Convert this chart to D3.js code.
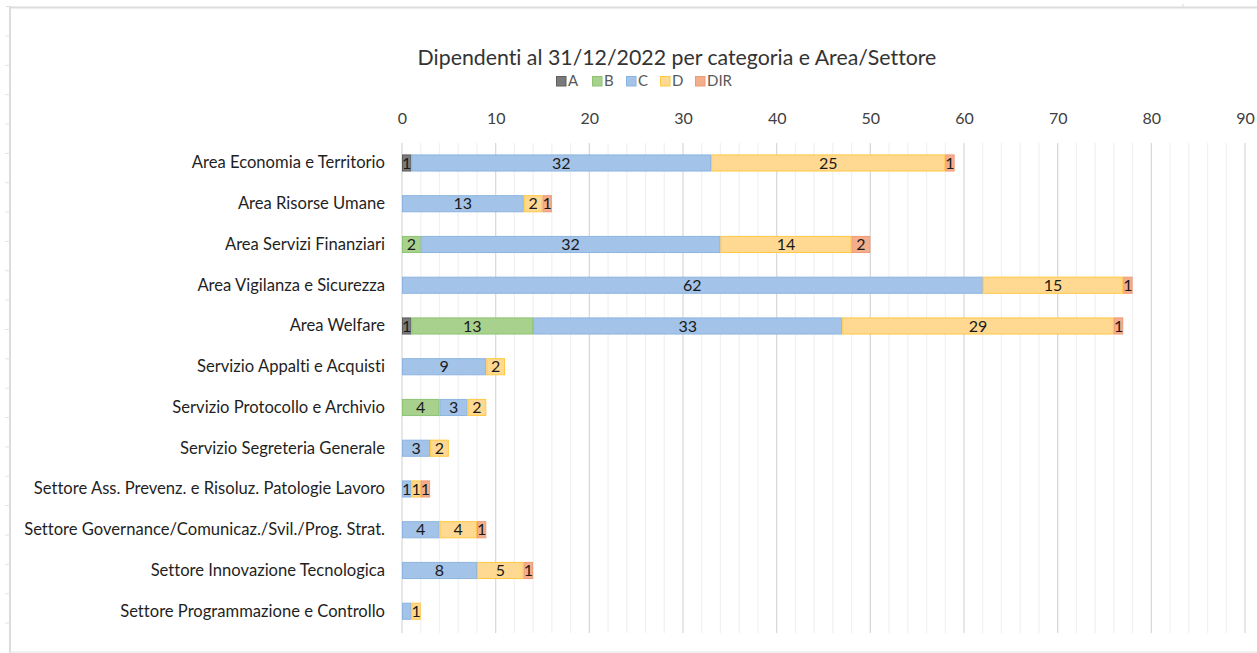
<!DOCTYPE html>
<html>
<head>
<meta charset="utf-8">
<script src="https://cdn.jsdelivr.net/npm/d3@7/dist/d3.min.js"></script>
<style>
  html, body { margin: 0; padding: 0; background: #fff; }
  svg { display: block; }
  text { font-family: Lato, "Open Sans", sans-serif; font-variant-ligatures: none; }
</style>
</head>
<body>
<svg id="chart" width="1257" height="653"></svg>
<script>
const categories = [
  "Area Economia e Territorio",
  "Area Risorse Umane",
  "Area Servizi Finanziari",
  "Area Vigilanza e Sicurezza",
  "Area Welfare",
  "Servizio Appalti e Acquisti",
  "Servizio Protocollo e Archivio",
  "Servizio Segreteria Generale",
  "Settore Ass. Prevenz. e Risoluz. Patologie Lavoro",
  "Settore Governance/Comunicaz./Svil./Prog. Strat.",
  "Settore Innovazione Tecnologica",
  "Settore Programmazione e Controllo"
];
const seriesNames = ["A", "B", "C", "D", "DIR"];
const valuesA   = [1, 0, 0, 0, 1, 0, 0, 0, 0, 0, 0, 0];
const valuesB   = [0, 0, 2, 0, 13, 0, 4, 0, 0, 0, 0, 0];
const valuesC   = [32, 13, 32, 62, 33, 9, 3, 3, 1, 4, 8, 1];
const valuesD   = [25, 2, 14, 15, 29, 2, 2, 2, 1, 4, 5, 1];
const valuesDIR = [1, 1, 2, 1, 1, 0, 0, 0, 1, 1, 1, 0];
const xTicks = [0, 10, 20, 30, 40, 50, 60, 70, 80, 90];
const titleText = "Dipendenti al 31/12/2022 per categoria e Area/Settore";
// data labels not shown in the original (series|category)
const hiddenLabels = ["C|Settore Programmazione e Controllo"];

const seriesValues = { A: valuesA, B: valuesB, C: valuesC, D: valuesD, DIR: valuesDIR };
const fills   = { A: "#7a7a7a", B: "#a9d18e", C: "#a4c3e8", D: "#ffd991", DIR: "#f4ae8c" };
const strokes = { A: "#5e5e5e", B: "#8cc474", C: "#8db4e0", D: "#ffc843", DIR: "#ee9a78" };

const rows = categories.map((c, i) => {
  const r = { cat: c };
  seriesNames.forEach(k => r[k] = seriesValues[k][i]);
  return r;
});

const svg = d3.select("#chart");

// spreadsheet-like frame
const frame = svg.append("g");
frame.append("line").attr("x1", 10).attr("x2", 1257).attr("y1", 7.5).attr("y2", 7.5)
  .attr("stroke", "#dcdcdc").attr("stroke-width", 2);
frame.append("line").attr("x1", 10).attr("x2", 10).attr("y1", 6).attr("y2", 653)
  .attr("stroke", "#dcdcdc").attr("stroke-width", 2);
frame.append("line").attr("x1", 10).attr("x2", 1257).attr("y1", 652).attr("y2", 652)
  .attr("stroke", "#ececec").attr("stroke-width", 1.5);
frame.append("line").attr("x1", 6).attr("x2", 10).attr("y1", 6.5).attr("y2", 6.5)
  .attr("stroke", "#dcdcdc");
frame.append("line").attr("x1", 1183).attr("x2", 1183).attr("y1", 4).attr("y2", 7)
  .attr("stroke", "#dcdcdc");
d3.range(21).forEach(i => {
  const yy = 36 + i * 29.35;
  if (yy < 650) frame.append("line").attr("x1", 5).attr("x2", 10).attr("y1", yy).attr("y2", yy)
    .attr("stroke", "#e2e2e2").attr("stroke-width", 1);
});

const x = d3.scaleLinear().domain([0, 90]).range([402, 1245]);
const y = d3.scaleBand().domain(categories).range([142.6, 631.6]).paddingInner(0.58).paddingOuter(0.29);

// gridlines
const minor = d3.range(0, 91, 2).filter(v => v % 10 !== 0);
svg.append("g").selectAll("line").data(minor).join("line")
  .attr("x1", d => x(d)).attr("x2", d => x(d))
  .attr("y1", 143).attr("y2", 633)
  .attr("stroke", "#f0f0f0").attr("stroke-width", 1.2);
svg.append("g").selectAll("line").data(xTicks).join("line")
  .attr("x1", d => x(d)).attr("x2", d => x(d))
  .attr("y1", 143).attr("y2", 633)
  .attr("stroke", "#dadada").attr("stroke-width", 1.3);

// top axis labels
const axis = d3.axisTop(x).tickValues(xTicks).tickSize(0).tickPadding(0);
const axG = svg.append("g").attr("transform", "translate(0,124)").call(axis);
axG.select(".domain").remove();
axG.selectAll("text").attr("font-family", "Lato, sans-serif").attr("font-size", 16)
  .attr("fill", "#404040");

// category labels
const yAxis = d3.axisLeft(y).tickSize(0).tickPadding(0);
const yG = svg.append("g").attr("transform", "translate(385,0)").call(yAxis);
yG.select(".domain").remove();
yG.selectAll("text").attr("font-family", "Lato, sans-serif").attr("font-size", 16.6)
  .attr("fill", "#1f1f1f");

// stacked bars
const stack = d3.stack().keys(seriesNames);
const stacked = stack(rows);
const bars = svg.append("g");
stacked.forEach(layer => {
  const key = layer.key;
  const g = bars.append("g");
  const segs = layer.filter(d => d[1] - d[0] > 0);
  g.selectAll("rect").data(segs).join("rect")
    .attr("x", d => x(d[0]) + 0.5)
    .attr("y", d => y(d.data.cat) + 0.5)
    .attr("width", d => x(d[1]) - x(d[0]) - 1)
    .attr("height", y.bandwidth() - 1)
    .attr("fill", fills[key])
    .attr("stroke", strokes[key])
    .attr("stroke-width", 1);
  g.selectAll("text").data(segs.filter(d => !hiddenLabels.includes(key + "|" + d.data.cat))).join("text")
    .attr("x", d => (x(d[0]) + x(d[1])) / 2)
    .attr("y", d => y(d.data.cat) + y.bandwidth() / 2)
    .attr("dy", "0.36em")
    .attr("text-anchor", "middle")
    .attr("font-size", 16)
    .attr("fill", "#1a1a1a")
    .text(d => d[1] - d[0]);
});

// title
svg.append("text").attr("x", 677).attr("y", 65).attr("text-anchor", "middle")
  .attr("font-size", 21.3).attr("fill", "#333").text(titleText);

// legend
const legendX = [556, 592, 626, 660, 695];
const lg = svg.append("g");
seriesNames.forEach((k, i) => {
  lg.append("rect").attr("x", legendX[i] + 0.5).attr("y", 76.5).attr("width", 9.5).attr("height", 9.5)
    .attr("fill", fills[k]).attr("stroke", strokes[k]);
  lg.append("text").attr("x", legendX[i] + 12).attr("y", 85.5)
    .attr("font-size", 15).attr("fill", "#595959").text(k);
});
</script>
</body>
</html>
